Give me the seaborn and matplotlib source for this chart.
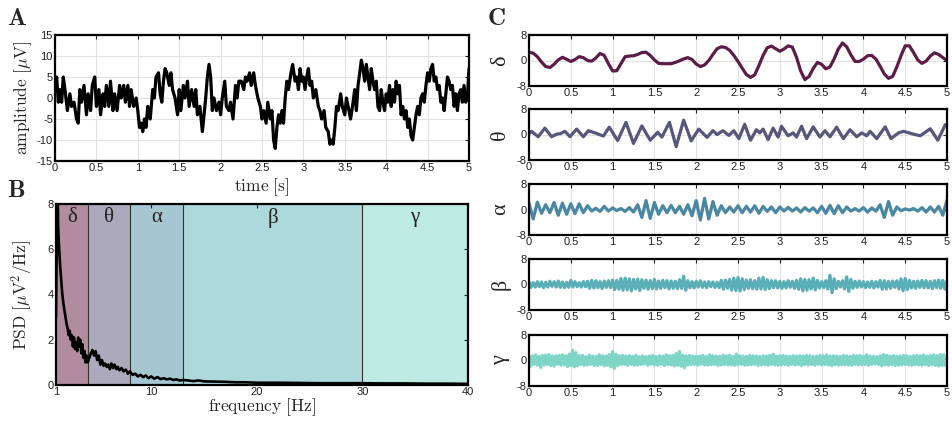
import numpy as np
import matplotlib
matplotlib.use("Agg")
import matplotlib.pyplot as plt
import seaborn as sns

# ---------------- Panel A: raw EEG trace ----------------
time_a = [0.00,0.02,0.04,0.06,0.08,0.10,0.12,0.15,0.18,0.20,
          0.23,0.26,0.28,0.30,0.32,0.35,0.38,0.40,0.43,0.45,
          0.48,0.50,0.53,0.55,0.58,0.60,0.62,0.65,0.67,0.70,
          0.72,0.75,0.78,0.80,0.83,0.85,0.88,0.90,0.92,0.95,
          0.98,1.00,1.02,1.04,1.06,1.08,1.10,1.12,1.15,1.18,
          1.20,1.22,1.25,1.27,1.29,1.31,1.33,1.35,1.38,1.40,
          1.42,1.45,1.48,1.50,1.52,1.55,1.57,1.60,1.62,1.65,
          1.68,1.70,1.72,1.75,1.78,1.80,1.82,1.84,1.86,1.88,
          1.90,1.92,1.95,1.98,2.00,2.02,2.05,2.07,2.10,2.12,
          2.15,2.18,2.20,2.22,2.25,2.28,2.30,2.32,2.35,2.37,
          2.40,2.42,2.45,2.48,2.50,2.52,2.55,2.57,2.60,2.62,
          2.64,2.66,2.68,2.70,2.72,2.74,2.76,2.78,2.80,2.82,
          2.85,2.87,2.90,2.92,2.94,2.96,2.98,3.00,3.02,3.04,
          3.06,3.08,3.10,3.12,3.15,3.18,3.20,3.22,3.25,3.27,
          3.30,3.32,3.34,3.36,3.38,3.40,3.42,3.45,3.47,3.50,
          3.52,3.55,3.57,3.60,3.62,3.64,3.66,3.68,3.70,3.72,
          3.74,3.76,3.78,3.80,3.82,3.84,3.86,3.88,3.90,3.92,
          3.94,3.96,3.98,4.00,4.02,4.04,4.06,4.08,4.10,4.12,
          4.14,4.16,4.18,4.20,4.22,4.24,4.26,4.28,4.30,4.32,
          4.34,4.36,4.38,4.40,4.42,4.44,4.46,4.48,4.50,4.52,
          4.54,4.56,4.58,4.60,4.62,4.64,4.66,4.68,4.70,4.72,
          4.74,4.76,4.78,4.80,4.82,4.84,4.86,4.88,4.90,4.92,
          4.94,4.96,4.98,5.00]
amp_a = [3,5,-1,2,-1,5,2,-3,1,-2,
         -1,-5,-6,2,-1,3,-4,1,-3,3,
         5,-2,2,-4,1,-2,3,-2,4,-3,
         1,-3,3,0,3,-1,3,-2,2,-2,
         0,-3,-7,-6,-8,-5,-7,-2,-5,2,
         0,5,6,1,-1,4,7,6,3,6,
         2,0,-4,2,-3,3,0,4,-2,2,
         -2,2,-4,-2,-8,-4,0,5,8,5,
         -3,0,-3,-1,-4,0,4,-2,-3,-1,
         -5,3,0,4,4,2,5,4,6,3,
         6,3,0,-2,-5,-3,-6,-1,-5,-3,
         -10,-12,-7,-4,-6,-3,-6,0,4,2,
         6,8,4,5,2,7,4,5,2,5,
         7,3,4,0,2,-2,-3,-5,-3,-7,
         -8,-11,-10,-11,-7,-2,-3,1,-2,-4,
         0,-3,-5,-1,2,-3,3,6,9,7,
         4,8,5,2,7,4,2,4,-2,-3,
         2,-1,-3,1,-1,3,-2,2,-1,4,
         1,3,-4,-2,-5,-3,-7,-5,-9,-10,
         -7,-4,-2,-4,0,1,-1,3,6,4,
         7,8,4,5,2,3,-1,0,-3,1,
         5,4,2,3,-2,1,-3,1,2,-1,
         3,-1,0,7]

# ---------------- Panel B: power spectral density ----------------
freq_b = [1.0,1.05,1.1,1.15,1.2,
          1.3,1.4,1.5,1.6,1.7,1.8,1.9,2.0,2.1,2.2,2.3,2.4,2.5,2.6,2.7,2.8,2.9,3.0,
          3.1,3.2,3.3,3.4,3.5,3.6,3.7,3.8,3.9,4.0,
          4.15,4.3,4.45,4.6,4.75,4.9,5.05,5.2,5.35,5.5,5.65,5.8,5.95,6.1,6.25,6.4,
          6.55,6.7,6.85,7.0,
          7.2,7.4,7.6,7.8,8.0,
          8.25,8.5,8.75,9.0,9.25,9.5,9.75,10.0,
          10.3,10.6,10.9,11.2,11.5,11.8,12.1,12.4,12.7,13.0,
          13.5,14.0,14.5,15.0,
          16,17,18,19,20,
          22,24,26,28,30,32,34,36,38,40]
psd_b = [3.0,5.5,8.5,9.0,7.0,
         6.0,5.2,4.6,4.0,3.6,3.3,3.0,2.7,2.5,2.2,2.4,2.0,2.2,1.7,2.1,1.6,1.9,1.5,
         2.1,1.7,2.0,1.4,1.8,1.2,1.5,1.0,1.3,1.0,
         1.2,1.4,1.55,1.3,1.5,1.1,1.3,0.9,1.1,0.85,0.95,0.8,0.9,0.7,0.95,0.75,
         0.9,0.7,0.8,0.65,
         0.75,0.6,0.68,0.5,0.6,
         0.45,0.5,0.38,0.45,0.35,0.42,0.3,0.38,
         0.28,0.35,0.26,0.3,0.25,0.28,0.22,0.25,0.2,0.22,
         0.2,0.17,0.2,0.16,
         0.15,0.14,0.12,0.12,0.1,
         0.1,0.09,0.08,0.08,0.08,0.07,0.07,0.06,0.06,0.05]

band_names = ["δ", "θ", "α", "β", "γ"]
band_edges = [1, 4, 8, 13, 30, 40]

# ---------------- Panel C: band-filtered signals ----------------
delta_v = [2.6,2.3,1.2,-0.5,-1.9,-2.2,-1.2,0.2,1.0,0.4,
           -0.3,0.3,1.2,0.9,0.0,-0.2,0.8,2.2,1.6,-1.0,
           -3.3,-3.2,-1.0,1.2,1.4,1.5,1.9,2.5,2.6,1.6,
           0.2,-0.9,-1.0,-1.0,-1.0,-0.6,-0.1,0.5,0.9,0.3,
           -1.1,-1.9,-1.4,0.0,1.9,3.7,4.3,4.1,3.2,1.6,
           -0.3,-2.4,-4.4,-5.3,-4.5,-1.6,1.6,4.0,4.5,3.7,
           2.9,3.6,4.6,4.2,1.0,-3.3,-6.0,-5.0,-2.5,-0.6,
           -1.2,-2.6,-2.0,0.5,3.6,5.5,4.3,1.8,-0.3,-0.3,
           0.4,1.5,1.6,0.4,-1.8,-4.2,-5.6,-5.0,-2.0,1.5,
           4.6,4.6,2.5,0.2,-0.9,-0.2,1.4,2.4,1.9,0.9,
           0.0]

theta_t = [0.0,0.03,0.11,0.19,0.27,0.33,0.38,0.43,0.49,0.57,
           0.65,0.71,0.79,0.89,0.96,1.06,1.16,1.25,1.35,1.45,
           1.54,1.59,1.68,1.76,1.85,1.94,2.03,2.13,2.20,2.25,
           2.32,2.39,2.45,2.51,2.58,2.65,2.72,2.76,2.80,2.86,
           2.92,2.98,3.02,3.10,3.16,3.20,3.26,3.32,3.40,3.48,
           3.54,3.60,3.68,3.76,3.84,3.92,3.98,4.04,4.08,4.16,
           4.26,4.33,4.42,4.48,4.60,4.68,4.80,4.89,4.98,5.00]
theta_v = [0.3,1.0,-0.7,2.0,-0.7,0.1,0.3,1.0,-0.7,1.7,
           -0.7,1.2,0.5,-0.5,2.3,-1.9,3.8,-2.8,2.7,-1.8,
           0.7,-0.8,3.8,-3.8,4.5,-2.0,1.7,-0.9,1.2,0.0,
           1.2,-0.3,1.2,-1.3,3.2,-1.8,1.5,0.5,1.7,-1.6,
           2.0,-0.8,2.6,-0.4,0.5,-0.8,2.6,-1.3,2.4,-0.8,
           1.2,-0.7,2.3,-1.3,1.5,-0.7,0.5,-0.4,1.0,-1.3,
           2.4,-1.3,0.5,1.0,0.1,-0.4,1.8,-1.8,3.1,2.9]

alpha_v = [2.0,-3.0,2.3,-1.2,1.5,-1.0,2.2,-1.8,2.0,-1.5,
           1.8,-1.3,1.8,-1.0,1.2,-0.5,0.4,-0.6,1.0,-0.5,
           0.5,-0.3,0.3,-0.6,0.6,-0.8,1.5,-2.5,2.8,-2.8,
           2.2,-1.5,1.2,-1.0,1.3,-1.0,1.0,-1.5,1.5,-2.0,
           2.8,-3.3,3.5,-3.0,2.5,-1.8,1.2,-1.0,0.8,-0.8,
           1.2,-1.0,1.0,-0.8,1.2,-1.2,1.0,-0.6,0.8,-1.0,
           0.8,-0.5,0.7,-0.5,0.5,-0.8,0.6,-0.5,0.5,-1.0,
           1.0,-1.2,1.3,-1.3,1.2,-1.0,0.8,-0.5,0.3,-0.5,
           0.6,-0.8,0.5,-0.5,1.5,-2.5,2.5,-1.8,0.8,-0.4,
           0.2,-0.2,0.3,-0.5,0.6,-0.8,0.8,-0.8,1.0,-1.8,
           3.0]

beta_v = [0.8,-0.9,0.6,-0.8,0.9,-0.7,0.8,-1.0,
          0.7,-0.8,1.0,-0.6,0.9,-0.8,1.1,-0.9,
          0.8,-1.0,0.7,-0.9,1.3,-0.8,0.9,-0.7,
          0.6,-0.8,0.9,-0.7,1.0,-1.2,1.3,-1.1,
          1.2,-1.0,0.9,-1.3,1.1,-0.9,1.2,-1.0,
          1.4,-1.6,1.3,-1.5,1.9,-1.8,2.0,-1.7,
          1.8,-2.0,1.6,-1.4,1.7,-1.9,1.5,-1.2,
          1.4,-1.5,1.2,-1.3,1.6,-1.4,1.1,-1.2,
          1.3,-1.0,1.2,-1.4,1.1,-1.2,1.0,-1.3,
          1.5,-1.2,2.6,-1.8,1.2,-1.0,0.9,-1.1,
          1.0,-0.8,1.2,-0.9,0.8,-1.0,0.9,-0.7,
          0.8,-0.9,0.7,-1.0,1.3,-1.5,1.4,-1.2,
          1.6,-1.8,2.0,-1.9,2.2,-2.0,1.8,-1.6,
          1.4,-1.2,1.5,-1.3,1.2,-1.5,2.0,-1.4,
          2.2,-1.6,1.5,-1.3,1.2,-1.0,1.2,-1.1,
          1.0,-1.2,0.9,-1.1,1.2,-0.9,1.0,-1.2,
          1.3,-1.5,1.8,-2.0,1.6,-1.8,1.5,-1.4,
          2.0,-1.7,1.3,-1.1,0.9,-1.0,1.2,-1.4,
          2.9,-2.6,1.8,-1.3,1.0,-0.8,1.2,-1.4,
          2.4,-2.2,1.6,-1.2,1.0,-0.9,1.1,-0.8,
          0.9,-1.0,0.8,-0.9,1.0,-1.1,0.9,-0.8,
          1.3,-1.5,1.2,-1.4,1.0,-1.2,1.1,-0.9,
          1.2,-1.4,1.8,-2.0,1.9,-1.6,1.3,-1.1,
          1.0,-1.2,1.1,-0.9,1.3,-1.0,1.2,-1.1,
          1.0,-1.3,1.2,-1.0,1.4,-1.2,1.3,-1.5,
          1.2]

gamma_v = [1.2,-1.8,1.5,-1.2,1.8,-1.5,1.3,-2.2,1.6,-1.4,
           1.7,-1.3,1.9,-1.6,1.4,-1.8,1.5,-1.2,1.6,-1.5,
           1.8,-1.4,1.5,-1.9,2.0,-1.6,3.2,-2.0,2.5,-1.7,
           1.5,-1.3,1.6,-1.5,1.2,-1.4,1.7,-1.2,1.4,-1.6,
           1.3,-1.5,1.8,-1.3,1.5,-1.7,1.4,-1.5,1.9,-2.0,
           2.8,-2.5,2.0,-1.6,1.5,-1.3,1.6,-1.2,1.4,-1.5,
           1.5,-1.2,1.3,-1.5,1.7,-1.4,1.2,-1.3,1.5,-1.1,
           1.2,-1.5,1.4,-1.2,1.6,-1.4,1.3,-1.5,1.5,-1.2,
           1.4,-1.6,1.8,-1.3,1.5,-1.4,1.6,-1.7,2.2,-1.5,
           2.8,-1.8,1.6,-2.3,1.5,-1.4,1.6,-1.3,1.4,-1.2,
           1.3,-1.5,1.4,-1.2,1.6,-1.4,1.3,-1.5,1.8,-1.3,
           1.5,-1.2,1.4,-1.6,1.3,-1.4,1.7,-1.3,1.5,-1.4,
           1.6,-1.4,1.3,-1.5,2.0,-1.4,1.5,-1.2,1.4,-1.5,
           1.3,-1.4,1.6,-1.3,1.5,-1.2,1.4,-1.6,1.3,-1.4,
           1.5,-1.3,1.4,-1.5,1.6,-1.2,2.0,-1.4,1.3,-1.5,
           1.5,-1.4,1.6,-1.3,1.4,-1.5,1.3,-1.2,1.5,-1.4,
           1.4,-1.3,1.5,-1.6,1.4,-1.3,1.6,-1.4,1.5,-1.3,
           1.3,-1.5,1.4,-1.2,1.6,-1.4,1.5,-1.3,1.7,-1.4,
           1.4,-1.6,1.5,-1.3,1.4,-1.5,1.3,-1.4,1.6,-1.3,
           1.5,-1.4,1.3,-1.5,1.6,-1.2,1.5,-1.4,1.6,-1.3,
           1.4,-1.3,1.8,-1.5,1.4,-1.2,1.3,-1.1,1.2,-1.3,
           1.5,-1.6,1.9,-1.4,1.6,-1.5,1.4,-1.3,1.5,-1.6,
           1.3,-1.5,1.4,-1.4,1.6,-1.3,1.5,-1.4,1.3,-1.5,
           1.5,-1.3,1.6,-1.4,1.5,-1.5,1.7,-1.3,1.4,-1.6,
           1.6,-1.4,1.8,-1.5,1.5,-1.7,1.9,-1.6,1.8,-1.5,
           1.0]

band_line_colors = ["#5b1d47", "#57577a", "#4a87a3", "#5aafb6", "#7fd6c6"]
band_fill_colors = ["#b18c9d", "#aca9bd", "#a6c6d1", "#add8dc", "#bdeae3"]

time_ticks = [0, 0.5, 1, 1.5, 2, 2.5, 3, 3.5, 4, 4.5, 5]

# ---------------- style ----------------
sns.set_theme(style="white")
plt.rcParams["font.family"] = ["Liberation Sans", "DejaVu Sans"]
plt.rcParams["mathtext.fontset"] = "cm"
plt.rcParams["axes.unicode_minus"] = False

GREEK_FONT = ["Liberation Serif", "DejaVu Serif"]

W, H = 953, 426
fig = plt.figure(figsize=(W / 100, H / 100), dpi=100)


def px_axes(l, t, r, b):
    return fig.add_axes([l / W, 1 - b / H, (r - l) / W, (b - t) / H])


def setup(ax, xlim, ylim, xticks, yticks, grid=True):
    ax.set_xlim(*xlim)
    ax.set_ylim(*ylim)
    ax.set_xticks(xticks)
    ax.set_yticks(yticks)
    ax.set_xticklabels([f"{v:g}" for v in xticks])
    ax.set_yticklabels([f"{v:g}" for v in yticks])
    ax.tick_params(direction="in", length=3, width=0.8, labelsize=8,
                   top=True, right=True, pad=1.5, color="#222222",
                   labelcolor="#222222")
    if grid:
        ax.grid(True, color="#e2e2e2", linewidth=0.8)
    else:
        ax.grid(False)
    ax.set_axisbelow(True)
    for s in ax.spines.values():
        s.set_visible(True)
        s.set_linewidth(1.6)
        s.set_color("black")
        s.set_zorder(5)
    ax.set_xlabel("")
    ax.set_ylabel("")


LBL = 12.5

# ---- Panel A ----
axA = px_axes(55, 35, 469, 161)
sns.lineplot(x=time_a, y=amp_a, ax=axA, color="black", linewidth=2.3,
             estimator=None, sort=False)
setup(axA, (0, 5), (-15, 15), time_ticks, [-15, -10, -5, 0, 5, 10, 15])
axA.set_ylabel(r"$\mathrm{amplitude\ [\mu V]}$", fontsize=LBL)
axA.yaxis.set_label_coords(-0.05, 0.5)
axA.set_xlabel(r"$\mathrm{time\ [s]}$", fontsize=LBL, va="top")
axA.xaxis.set_label_coords(0.5, -0.125)

# ---- Panel B ----
axB = px_axes(56, 204, 468, 385)
for i in range(5):
    axB.axvspan(band_edges[i], band_edges[i + 1], color=band_fill_colors[i],
                lw=0, zorder=0)
    axB.text((band_edges[i] + band_edges[i + 1]) / 2, 7.4, band_names[i],
             ha="center", va="center", fontsize=15, color="#222222",
             family=GREEK_FONT)
for e in band_edges[1:-1]:
    axB.axvline(e, color="#333333", lw=0.8, zorder=1)
sns.lineplot(x=freq_b, y=psd_b, ax=axB, color="black", linewidth=1.9,
             estimator=None, sort=False)
setup(axB, (1, 40), (0, 8), [1, 10, 20, 30, 40], [0, 2, 4, 6, 8], grid=False)
axB.set_ylabel(r"$\mathrm{PSD\ [\mu V^2/Hz]}$", fontsize=LBL)
axB.yaxis.set_label_coords(-0.05, 0.5)
axB.set_xlabel(r"$\mathrm{frequency\ [Hz]}$", fontsize=LBL, va="top")
axB.xaxis.set_label_coords(0.5, -0.065)

# ---- Panel C ----
c_tops = [35, 109, 184, 259, 335]
c_series = [
    (np.linspace(0, 5, len(delta_v)), delta_v),
    (theta_t, theta_v),
    (np.linspace(0, 5, len(alpha_v)), alpha_v),
    (np.linspace(0, 5, len(beta_v)), beta_v),
    (np.linspace(0, 5, len(gamma_v)), gamma_v),
]
for i, top in enumerate(c_tops):
    ax = px_axes(529, top, 947, top + 51)
    tx, vy = c_series[i]
    sns.lineplot(x=list(tx), y=list(vy), ax=ax, color=band_line_colors[i],
                 linewidth=2.3, estimator=None, sort=False)
    ax.lines[-1].set_solid_joinstyle("round")
    setup(ax, (0, 5), (-8, 8), time_ticks, [-8, 0, 8])
    ax.set_ylabel(band_names[i], fontsize=16, family=GREEK_FONT)
    ax.yaxis.set_label_coords(-0.045, 0.5)

# ---- panel letters ----
fig.text(7 / W, 1 - 6 / H, r"$\mathbf{A}$", fontsize=18, va="top", ha="left")
fig.text(7 / W, 1 - 178 / H, r"$\mathbf{B}$", fontsize=18, va="top", ha="left")
fig.text(487 / W, 1 - 6 / H, r"$\mathbf{C}$", fontsize=18, va="top", ha="left")

fig.savefig("out.png", dpi=100)
